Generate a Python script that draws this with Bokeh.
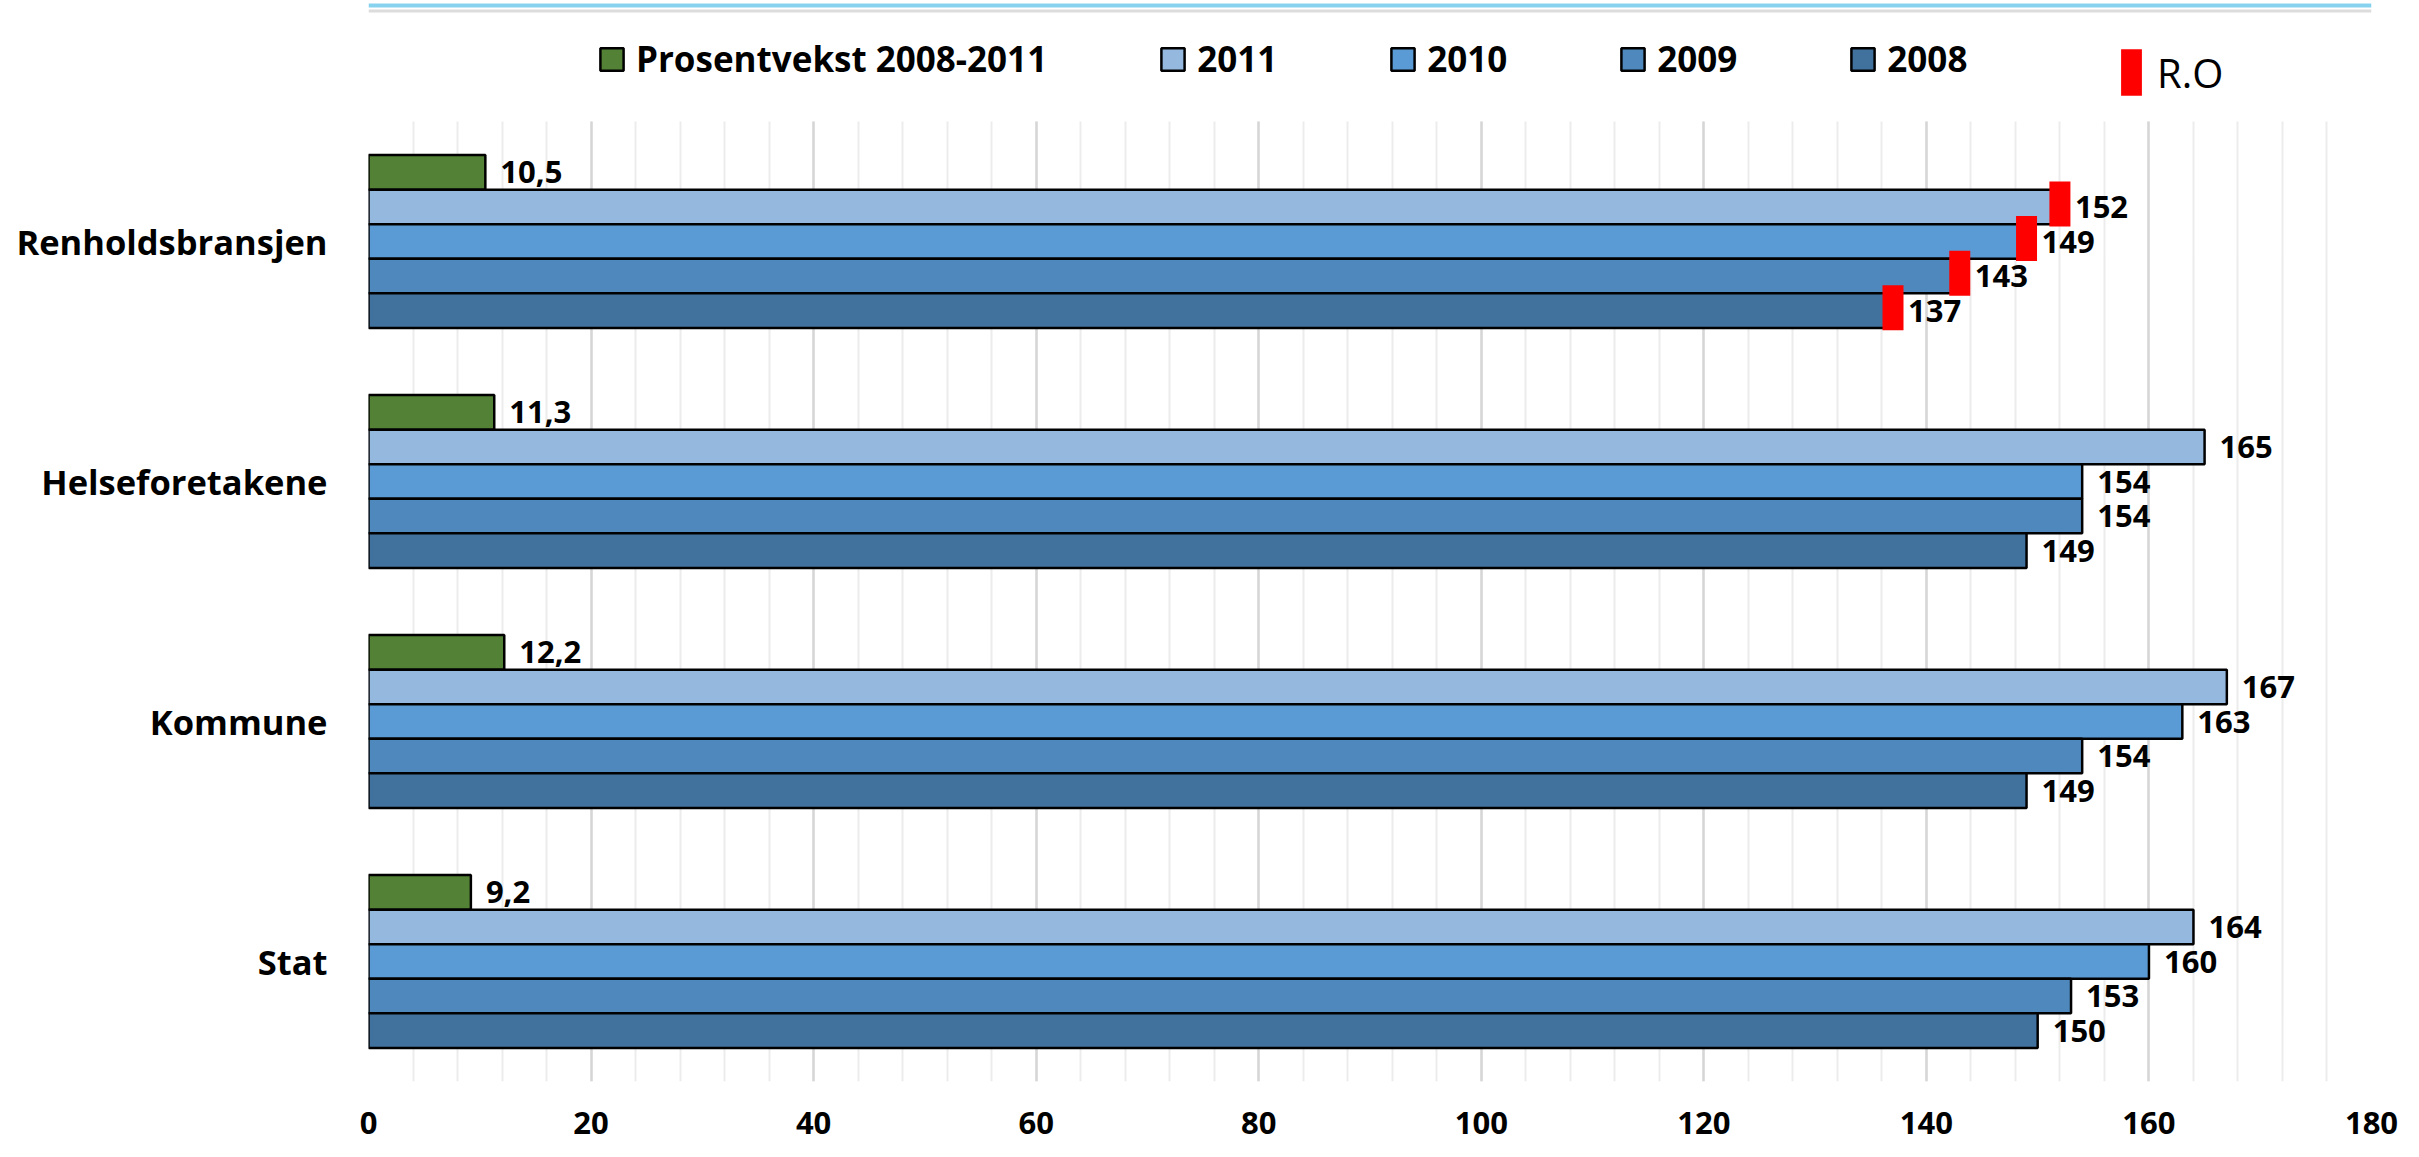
from bokeh.plotting import figure
from bokeh.models import (Range1d, Legend, LegendItem, SingleIntervalTicker, FixedTicker,
                          ColumnDataSource, BoxAnnotation)
from bokeh.core.properties import value
from bokeh.embed import file_html
from bokeh.resources import INLINE

# ---- data ----
categories = ["Renholdsbransjen", "Helseforetakene", "Kommune", "Stat"]
growth = [10.5, 11.3, 12.2, 9.2]          # Prosentvekst 2008-2011
v2011 = [152, 165, 167, 164]
v2010 = [149, 154, 163, 160]
v2009 = [143, 154, 154, 153]
v2008 = [137, 149, 149, 150]
ro_values = [152, 149, 143, 137]          # R.O markers for Renholdsbransjen (2011, 2010, 2009, 2008)
series_names = ["Prosentvekst 2008-2011", "2011", "2010", "2009", "2008"]
x_ticks = [0, 20, 40, 60, 80, 100, 120, 140, 160, 180]

# ---- styling / layout ----
colors = ["#538135", "#95b8df", "#5b9bd5", "#4e88bc", "#41729e"]
offsets = [0.288, 0.144, 0.0, -0.144, -0.288]
bar_h = 0.144
FONT = "Open Sans"
W, H = 2410, 1155
FRAME_LEFT = 368
FRAME_BOTTOM = 1081          # pixel row of the plot frame's bottom edge
BAND = 240                   # pixels per category band
n = len(categories)
cat_pos = [n - i - 0.5 for i in range(n)]          # category centres, first category on top
y_end = FRAME_BOTTOM / BAND

p = figure(width=W, height=H, x_range=Range1d(x_ticks[0], x_ticks[-1]), y_range=Range1d(0, y_end),
           output_backend="svg", toolbar_location=None,
           min_border_left=FRAME_LEFT, min_border_right=W - 2371, min_border_top=0,
           min_border_bottom=H - FRAME_BOTTOM)
p.outline_line_color = None
p.background_fill_color = "white"
p.border_fill_color = "white"

ticker = SingleIntervalTicker(interval=20, num_minor_ticks=5)
p.xaxis.ticker = ticker
g = p.xgrid[0]
g.ticker = ticker
g.grid_line_color = "#d6d6d6"
g.grid_line_width = 2.5
g.minor_grid_line_color = "#ececec"
g.minor_grid_line_width = 2
p.ygrid.grid_line_color = None
if hasattr(g, "cross_bounds"):
    g.cross_bounds = (0, n)
else:
    g.visible = False
    minor = [t for t in range(x_ticks[0], x_ticks[-1] + 1, 4) if t not in x_ticks]
    p.segment(x0=minor, x1=minor, y0=[0] * len(minor), y1=[n] * len(minor),
              line_color="#ececec", line_width=2)
    p.segment(x0=x_ticks, x1=x_ticks, y0=[0] * len(x_ticks), y1=[n] * len(x_ticks),
              line_color="#d6d6d6", line_width=2.5)

for ax in (p.xaxis[0], p.yaxis[0]):
    ax.axis_line_color = None
    ax.major_tick_line_color = None
    ax.minor_tick_line_color = None
    ax.major_tick_out = 0
    ax.minor_tick_out = 0
    ax.major_label_text_font = FONT
    ax.major_label_text_font_style = "bold"
    ax.major_label_text_color = "black"
p.xaxis.major_label_text_font_size = "31px"
p.xaxis.major_label_standoff = 30
p.yaxis.ticker = FixedTicker(ticks=cat_pos, minor_ticks=[])
p.yaxis.major_label_overrides = {pos: c for pos, c in zip(cat_pos, categories)}
p.yaxis.major_label_text_font_size = "34.5px"
p.yaxis.major_label_standoff = 41

series_vals = [growth, v2011, v2010, v2009, v2008]

def make_labels(name, vals):
    if name.startswith("Prosent"):
        return [f"{v:.1f}".replace(".", ",") for v in vals]
    return [str(v) for v in vals]

bar_renderers = []
for name, vals, col, off in zip(series_names, series_vals, colors, offsets):
    src = ColumnDataSource(dict(y=[c + off for c in cat_pos], val=vals))
    r = p.hbar(y="y", right="val", left=0, height=bar_h, source=src,
               fill_color=col, line_color="black", line_width=2.5)
    bar_renderers.append(r)

# red R.O markers (Renholdsbransjen)
ro_src = ColumnDataSource(dict(val=ro_values, y=[cat_pos[0] + off + 0.012 for off in offsets[1:]]))
ro_r = p.rect(x="val", y="y", width=21, height=45, width_units="screen", height_units="screen",
              source=ro_src, fill_color="#ff0000", line_color=None)

# data labels
for name, vals, off in zip(series_names, series_vals, offsets):
    src = ColumnDataSource(dict(y=[c + off for c in cat_pos], val=vals, lab=make_labels(name, vals)))
    p.text(x="val", y="y", text="lab", source=src, x_offset=15, text_align="left",
           text_baseline="middle", text_font=value(FONT), text_font_style="bold",
           text_font_size="31px", text_color="black")

# decoration lines at the top of the page
p.add_layout(BoxAnnotation(top=(FRAME_BOTTOM - 3) / BAND, bottom=(FRAME_BOTTOM - 7) / BAND,
                           fill_color="#87d3ef", fill_alpha=1, line_color=None))
p.add_layout(BoxAnnotation(top=(FRAME_BOTTOM - 9) / BAND, bottom=(FRAME_BOTTOM - 12) / BAND,
                           fill_color="#dcdcdc", fill_alpha=1, line_color=None))

# legends (Bokeh insets area glyphs by 10% on each side, so glyph boxes are enlarged)
legend1 = Legend(items=[LegendItem(label=nm, renderers=[r]) for nm, r in zip(series_names, bar_renderers)],
                 orientation="horizontal", location=(600 - FRAME_LEFT - 3, FRAME_BOTTOM - 82),
                 glyph_width=29, glyph_height=28,
                 label_standoff=10, spacing=111, padding=0, margin=0,
                 label_text_font=FONT, label_text_font_style="bold", label_text_font_size="35px",
                 label_text_color="black", border_line_color=None, background_fill_alpha=0)
legend2 = Legend(items=[LegendItem(label="R.O", renderers=[ro_r])],
                 orientation="horizontal", location=(2121 - FRAME_LEFT - 3, FRAME_BOTTOM - 101),
                 glyph_width=26, glyph_height=58,
                 label_standoff=13, padding=0, margin=0,
                 label_text_font=FONT, label_text_font_style="normal", label_text_font_size="40px",
                 label_text_color="black", border_line_color=None, background_fill_alpha=0)
p.add_layout(legend1)
p.add_layout(legend2)

open("out.html", "w").write(file_html(p, INLINE))
